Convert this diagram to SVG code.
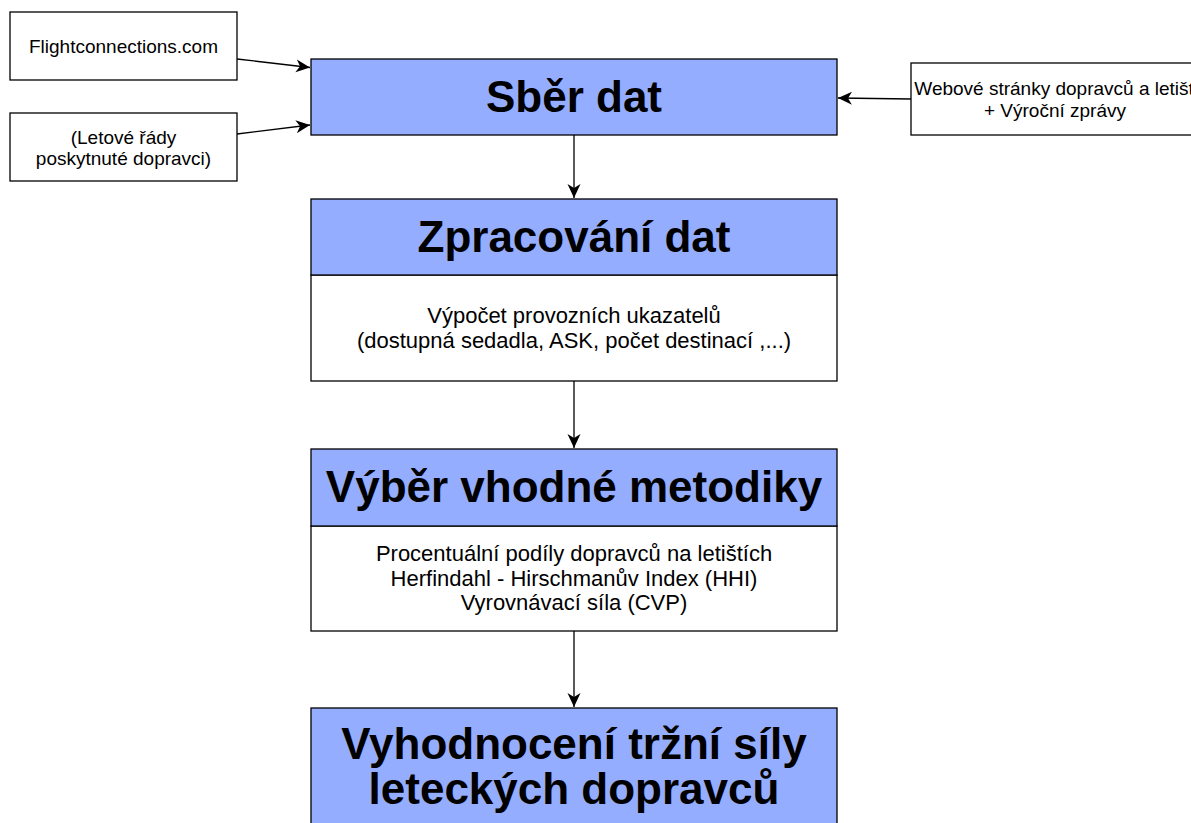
<svg xmlns="http://www.w3.org/2000/svg" width="1191" height="823" viewBox="0 0 1191 823">
<style>
.box{fill:#ffffff;stroke:#000000;stroke-width:1.3}
.hdr{fill:#94adff;stroke:#000000;stroke-width:1.3}
.big{font-family:"Liberation Sans",Arial,sans-serif;font-weight:bold;font-size:44px;fill:#000;text-anchor:middle}
.sm{font-family:"Liberation Sans",Arial,sans-serif;font-size:19px;fill:#000;text-anchor:middle}
.body{font-family:"Liberation Sans",Arial,sans-serif;font-size:22px;fill:#000;text-anchor:middle}
.conn{fill:none;stroke:#000000;stroke-width:1.3}
</style>
<defs>
<marker id="arr" markerUnits="userSpaceOnUse" markerWidth="16" markerHeight="14" refX="14" refY="6.5" orient="auto">
<path d="M0,0 L14,6.5 L0,13 L4,6.5 Z" fill="#000"/>
</marker>
</defs>
<rect x="0" y="0" width="1191" height="823" fill="#ffffff"/>

<g id="connectors">
<line class="conn" x1="237" y1="59" x2="310" y2="67.5" marker-end="url(#arr)"/>
<line class="conn" x1="237" y1="134" x2="310" y2="125" marker-end="url(#arr)"/>
<line class="conn" x1="911" y1="99" x2="838" y2="98" marker-end="url(#arr)"/>
<line class="conn" x1="574" y1="135" x2="574" y2="198" marker-end="url(#arr)"/>
<line class="conn" x1="574" y1="381" x2="574" y2="448" marker-end="url(#arr)"/>
<line class="conn" x1="574" y1="631" x2="574" y2="707" marker-end="url(#arr)"/>
</g>

<g id="flightconnections">
<rect class="box" x="10" y="12" width="227" height="68"/>
<text class="sm" x="123.5" y="53">Flightconnections.com</text>
</g>

<g id="letove-rady">
<rect class="box" x="10" y="113" width="227" height="68"/>
<text class="sm" x="123.5" y="144">(Letové řády</text>
<text class="sm" x="123.5" y="165">poskytnuté dopravci)</text>
</g>

<g id="webove-stranky">
<rect class="box" x="911" y="63" width="290" height="72"/>
<text class="sm" x="1055" y="94.5">Webové stránky dopravců a letišť</text>
<text class="sm" x="1055" y="116.5">+ Výroční zprávy</text>
</g>

<g id="sber-dat">
<rect class="hdr" x="311" y="59" width="526" height="76"/>
<text class="big" x="574" y="111.5">Sběr dat</text>
</g>

<g id="zpracovani-dat">
<rect class="box" x="311" y="275" width="526" height="106"/>
<rect class="hdr" x="311" y="199" width="526" height="76"/>
<text class="big" x="574" y="252">Zpracování dat</text>
<text class="body" x="574" y="323">Výpočet provozních ukazatelů</text>
<text class="body" x="574" y="348">(dostupná sedadla, ASK, počet destinací ,...)</text>
</g>

<g id="vyber-metodiky">
<rect class="box" x="311" y="526" width="526" height="105"/>
<rect class="hdr" x="311" y="449" width="526" height="77"/>
<text class="big" x="574" y="502">Výběr vhodné metodiky</text>
<text class="body" x="574" y="561">Procentuální podíly dopravců na letištích</text>
<text class="body" x="574" y="585.5">Herfindahl - Hirschmanův Index (HHI)</text>
<text class="body" x="574" y="610">Vyrovnávací síla (CVP)</text>
</g>

<g id="vyhodnoceni">
<rect class="hdr" x="311" y="708" width="526" height="130"/>
<text class="big" x="574" y="759">Vyhodnocení tržní síly</text>
<text class="big" x="574" y="804">leteckých dopravců</text>
</g>
</svg>
